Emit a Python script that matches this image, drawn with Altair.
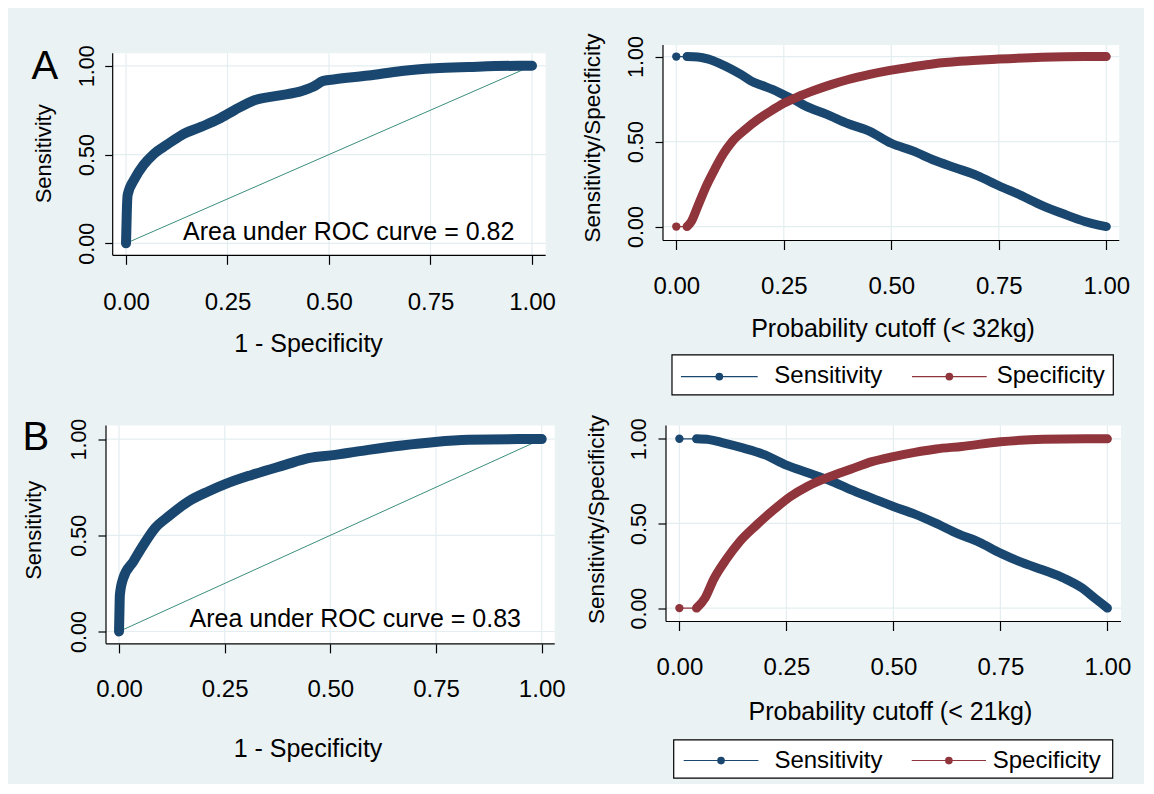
import altair as alt
import pandas as pd

# ---------------- data ----------------
x_tick_values = [0.0, 0.25, 0.5, 0.75, 1.0]
y_tick_values = [0.0, 0.5, 1.0]
series_names = ["Sensitivity", "Specificity"]
panel_letters = ["A", "B"]
auc_labels = ["Area under ROC curve = 0.82", "Area under ROC curve = 0.83"]
roc_x_title = "1 - Specificity"
roc_y_title = "Sensitivity"
cut_y_title = "Sensitivity/Specificity"
cut_x_titles = ["Probability cutoff (< 32kg)", "Probability cutoff (< 21kg)"]
diag_vals = [0.0, 1.0]

# Panel A, ROC curve (1 - specificity, sensitivity)
roc_a_fpr = [0.0, 0.001, 0.002, 0.004, 0.022, 0.043, 0.067, 0.100, 0.137, 0.186, 0.228,
             0.268, 0.318, 0.375, 0.433, 0.462, 0.486, 0.515, 0.597, 0.679, 0.761, 0.843,
             0.966, 1.0]
roc_a_tpr = [0.0, 0.085, 0.178, 0.272, 0.366, 0.441, 0.500, 0.554, 0.610, 0.657, 0.700,
             0.751, 0.807, 0.832, 0.858, 0.883, 0.915, 0.924, 0.945, 0.971, 0.986, 0.993,
             1.0, 1.0]

# Panel B, ROC curve
roc_b_fpr = [0.0, 0.001, 0.002, 0.010, 0.034, 0.058, 0.085, 0.117, 0.164, 0.211, 0.251,
             0.314, 0.393, 0.448, 0.511, 0.590, 0.669, 0.748, 0.827, 0.945, 1.0]
roc_b_tpr = [0.0, 0.104, 0.190, 0.277, 0.364, 0.451, 0.537, 0.598, 0.676, 0.728, 0.766,
             0.814, 0.866, 0.901, 0.918, 0.944, 0.967, 0.985, 0.996, 1.0, 1.0]

# Panel A, sensitivity / specificity against probability cutoff
sens_a_cut = [0.0, 0.025, 0.05, 0.075, 0.10, 0.125, 0.15, 0.175, 0.20, 0.225, 0.25, 0.275,
              0.30, 0.35, 0.40, 0.45, 0.50, 0.55, 0.60, 0.65, 0.70, 0.75, 0.80, 0.85, 0.90,
              0.95, 0.98, 1.0]
sens_a_val = [1.0, 1.0, 0.998, 0.985, 0.96, 0.93, 0.895, 0.855, 0.83, 0.805, 0.775, 0.745,
              0.71, 0.66, 0.605, 0.56, 0.49, 0.445, 0.39, 0.345, 0.30, 0.24, 0.185, 0.125,
              0.075, 0.03, 0.01, 0.0]
spec_a_cut = [0.0, 0.025, 0.035, 0.05, 0.07, 0.09, 0.11, 0.13, 0.16, 0.19, 0.22, 0.25,
              0.28, 0.32, 0.36, 0.40, 0.45, 0.50, 0.55, 0.60, 0.66, 0.75, 0.85, 0.95, 1.0]
spec_a_val = [0.0, 0.0, 0.03, 0.12, 0.24, 0.34, 0.43, 0.50, 0.57, 0.63, 0.68, 0.725,
              0.76, 0.80, 0.835, 0.865, 0.895, 0.92, 0.94, 0.958, 0.972, 0.985, 0.996,
              1.0, 1.0]

# Panel B
sens_b_cut = [0.0, 0.04, 0.07, 0.10, 0.15, 0.20, 0.25, 0.30, 0.35, 0.40, 0.45, 0.50, 0.55,
              0.60, 0.65, 0.70, 0.75, 0.80, 0.85, 0.90, 0.94, 0.97, 1.0]
sens_b_val = [1.0, 1.0, 0.995, 0.978, 0.945, 0.905, 0.845, 0.80, 0.755, 0.70, 0.65, 0.60,
              0.555, 0.50, 0.44, 0.39, 0.325, 0.27, 0.225, 0.175, 0.12, 0.06, 0.0]
spec_b_cut = [0.0, 0.04, 0.06, 0.08, 0.11, 0.14, 0.18, 0.22, 0.26, 0.30, 0.35, 0.40, 0.45,
              0.50, 0.55, 0.60, 0.66, 0.75, 0.85, 0.95, 1.0]
spec_b_val = [0.0, 0.0, 0.06, 0.17, 0.29, 0.39, 0.49, 0.58, 0.66, 0.72, 0.775, 0.82, 0.865,
              0.895, 0.92, 0.94, 0.955, 0.982, 0.997, 1.0, 1.0]

# ---------------- style ----------------
NAVY = "#1a476f"
MAROON = "#90353b"
GREEN = "#3b8d7c"
BG = "#eaf2f3"
GRID = "#e4eef0"
FONT = "Liberation Sans"


def setup(geo, xtitle, ytitle, ytitle_size):
    """Scales and axes. The white plot region is xdom x ydom; the view may extend
    a little further to the left / top (vx0, vy1) so that grid origins line up."""
    vx0 = geo.get("vx0", geo["xdom"][0])
    vy1 = geo.get("vy1", geo["ydom"][1])
    xaxis = alt.Axis(values=x_tick_values, format=".2f", title=xtitle, grid=False,
                     domain=False, tickSize=9, labelFontSize=24, labelBaseline="alphabetic",
                     labelPadding=geo["xlabpad"], labelFlush=False, labelOverlap=False,
                     titleFontSize=25, titleX=geo["xtx"], titleY=geo["xty"],
                     titleBaseline="alphabetic", titleAlign="center", titleAngle=0)
    yaxis = alt.Axis(values=y_tick_values, format=".2f", title=ytitle, grid=False,
                     domain=False, tickSize=8, labelFontSize=21.5, labelAngle=270,
                     labelAlign="center", labelBaseline="alphabetic",
                     labelPadding=geo["ylabpad"], labelFlush=False, labelOverlap=False,
                     offset=geo.get("yoff", 0),
                     titleFontSize=ytitle_size, titleAngle=270, titleX=geo["ytx"],
                     titleY=geo["yty"], titleBaseline="alphabetic", titleAlign="center")
    xs = alt.Scale(domain=[vx0, geo["xdom"][1]], nice=False, zero=False)
    ys = alt.Scale(domain=[geo["ydom"][0], vy1], nice=False, zero=False)
    w = (geo["xdom"][1] - vx0) * geo["xppu"]
    h = (vy1 - geo["ydom"][0]) * geo["yppu"]
    return dict(xs=xs, ys=ys, xaxis=xaxis, yaxis=yaxis, w=w, h=h)


def XY(s, xfield="x", yfield="y"):
    return (alt.X(f"{xfield}:Q", scale=s["xs"], axis=s["xaxis"]),
            alt.Y(f"{yfield}:Q", scale=s["ys"], axis=s["yaxis"]))


def frame_layers(geo, s):
    """White plot region, light grid lines and the two axis lines."""
    X, Y = XY(s)
    x0, x1 = geo["xdom"]
    y0, y1 = geo["ydom"]
    white = alt.Chart(pd.DataFrame({"x": [x0], "x2": [x1], "y": [y0], "y2": [y1]})).mark_rect(
        fill="white", clip=False).encode(x=X, x2="x2:Q", y=Y, y2="y2:Q")
    vgrid = alt.Chart(pd.DataFrame({"x": x_tick_values, "y": [y0] * len(x_tick_values),
                                    "y2": [y1] * len(x_tick_values)})).mark_rule(
        color=GRID, strokeWidth=1.2).encode(x=X, y=Y, y2="y2:Q")
    hgrid = alt.Chart(pd.DataFrame({"y": y_tick_values, "x": [x0] * len(y_tick_values),
                                    "x2": [x1] * len(y_tick_values)})).mark_rule(
        color=GRID, strokeWidth=1.2).encode(y=Y, x=X, x2="x2:Q")
    xline = alt.Chart(pd.DataFrame({"x": [x0], "x2": [x1], "y": [y0]})).mark_rule(
        color="black", strokeWidth=1.2, clip=False).encode(x=X, x2="x2:Q", y=Y)
    yline = alt.Chart(pd.DataFrame({"x": [x0], "y": [y0], "y2": [y1]})).mark_rule(
        color="black", strokeWidth=1.2, clip=False).encode(x=X, y=Y, y2="y2:Q")
    return [white, vgrid, hgrid], [xline, yline]


def roc_panel(fpr, tpr, letter, auc_text, geo):
    s = setup(geo, roc_x_title, roc_y_title, 22)
    X, Y = XY(s)
    back, lines = frame_layers(geo, s)
    diag = alt.Chart(pd.DataFrame({"x": diag_vals, "y": diag_vals})).mark_line(
        color=GREEN, strokeWidth=1).encode(x=X, y=Y)
    curve = alt.Chart(pd.DataFrame({"x": fpr, "y": tpr})).mark_line(
        color=NAVY, strokeWidth=10, strokeCap="round", strokeJoin="round",
        interpolate="monotone").encode(x=X, y=Y, order="x:Q")
    annot = alt.Chart(pd.DataFrame({"x": [geo["auc"][0]], "y": [geo["auc"][1]], "t": [auc_text]})).mark_text(
        font=FONT, fontSize=25, align="center", baseline="alphabetic", color="black", clip=False
    ).encode(x=X, y=Y, text="t:N")
    let = alt.Chart(pd.DataFrame({"x": [geo["letter"][0]], "y": [geo["letter"][1]], "t": [letter]})).mark_text(
        font=FONT, fontSize=40, align="center", baseline="alphabetic", color="black", clip=False
    ).encode(x=X, y=Y, text="t:N")
    return alt.layer(*back, diag, curve, *lines, annot, let).properties(
        width=s["w"], height=s["h"])


def cut_panel(sx, sy, px, py, xtitle, geo):
    s = setup(geo, xtitle, cut_y_title, 22.5)
    X, Y = XY(s)
    back, lines = frame_layers(geo, s)
    rows = []
    for name, xv, yv in ((series_names[0], sx, sy), (series_names[1], px, py)):
        for i, (a, b) in enumerate(zip(xv, yv)):
            rows.append({"series": name, "x": a, "y": b, "first": i == 0})
    df = pd.DataFrame(rows)
    color = alt.Color("series:N", scale=alt.Scale(domain=series_names, range=[NAVY, MAROON]),
                      legend=None)
    base = alt.Chart(df)
    thin = base.mark_line(strokeWidth=1.2).encode(x=X, y=Y, color=color, order="x:Q")
    thick = base.transform_filter("!datum.first").mark_line(
        strokeWidth=9, strokeCap="round", strokeJoin="round", interpolate="monotone"
    ).encode(x=X, y=Y, color=color, order="x:Q")
    iso = base.transform_filter("datum.first").mark_point(
        filled=True, size=70, opacity=1).encode(x=X, y=Y, color=color)

    lg = geo["legend"]
    box = alt.Chart(pd.DataFrame({"x": [lg["box"][0]], "x2": [lg["box"][1]],
                                  "y": [lg["box"][2]], "y2": [lg["box"][3]]})).mark_rect(
        fill="white", stroke="black", strokeWidth=1.2, clip=False
    ).encode(x=X, x2="x2:Q", y=Y, y2="y2:Q")
    ldf = pd.DataFrame({
        "series": series_names,
        "x": [lg["sens"][0], lg["spec"][0]],
        "x2": [lg["sens"][1], lg["spec"][1]],
        "xm": [(lg["sens"][0] + lg["sens"][1]) / 2, (lg["spec"][0] + lg["spec"][1]) / 2],
        "xt": [lg["sens"][2], lg["spec"][2]],
        "y": [lg["sym_y"]] * 2,
        "yt": [lg["txt_y"]] * 2,
    })
    lbase = alt.Chart(ldf)
    lrule = lbase.mark_rule(strokeWidth=1.2, clip=False).encode(x=X, x2="x2:Q", y=Y, color=color)
    Xm, _ = XY(s, xfield="xm")
    ldot = lbase.mark_point(filled=True, size=60, opacity=1, clip=False).encode(
        x=Xm, y=Y, color=color)
    Xt, Yt = XY(s, xfield="xt", yfield="yt")
    ltxt = lbase.mark_text(font=FONT, fontSize=24, align="left", baseline="alphabetic",
                           color="black", clip=False).encode(x=Xt, y=Yt, text="series:N")
    return alt.layer(*back, thin, thick, iso, *lines, box, lrule, ldot, ltxt).properties(
        width=s["w"], height=s["h"])


# layout of each panel: white-region domains, pixels per unit, label/title offsets
geo_al = dict(xdom=[-0.0328, 1.0337], ydom=[-0.0676, 1.0704], xppu=406, yppu=177.5,
              vx0=-0.04926, vy1=1.11718, yoff=-6.7,
              xlabpad=45.7, xtx=202.0, xty=96.3, ylabpad=11.3, ytx=-62, yty=108.3,
              auc=(0.5485, 0.019), letter=(-0.2, 0.928))
geo_ar = dict(xdom=[-0.0309, 1.0302], ydom=[-0.082, 1.068], xppu=430, yppu=170,
              xlabpad=43.7, xtx=229.5, xty=96, ylabpad=13, ytx=-63.2, yty=92.5,
              legend=dict(box=(-0.01, 1.0163, -0.7553, -0.9906), sym_y=-0.8824, txt_y=-0.9218,
                          sens=(0.0109, 0.1893, 0.2279), spec=(0.5481, 0.7219, 0.7451)))
geo_bl = dict(xdom=[-0.0308, 1.0308], ydom=[-0.064, 1.0707], xppu=422.7, yppu=192.4,
              xlabpad=43.7, xtx=201.5, xty=112.7, ylabpad=13, ytx=-65.2, yty=104.3,
              auc=(0.559, 0.026), letter=(-0.197, 0.944))
geo_br = dict(xdom=[-0.0313, 1.0318], ydom=[-0.079, 1.0786], xppu=428, yppu=169.3,
              xlabpad=44.3, xtx=223.9, xty=98.3, ylabpad=12.6, ytx=-62.9, yty=93.5,
              legend=dict(box=(-0.0133, 1.0124, -0.7779, -1.0041), sym_y=-0.9002, txt_y=-0.945,
                          sens=(0.01, 0.1846, 0.222), spec=(0.5428, 0.7164, 0.732)))

a_left = roc_panel(roc_a_fpr, roc_a_tpr, panel_letters[0], auc_labels[0], geo_al)
a_right = cut_panel(sens_a_cut, sens_a_val, spec_a_cut, spec_a_val, cut_x_titles[0], geo_ar)
b_left = roc_panel(roc_b_fpr, roc_b_tpr, panel_letters[1], auc_labels[1], geo_bl)
b_right = cut_panel(sens_b_cut, sens_b_val, spec_b_cut, spec_b_val, cut_x_titles[1], geo_br)

row_a = alt.hconcat(a_left, a_right, spacing=25)
row_b = alt.hconcat(b_left, b_right, spacing=18)

chart = alt.vconcat(row_a, row_b, spacing=16.5).properties(
    padding={"left": 13, "top": 24, "right": 12, "bottom": 4},
    background=BG,
).configure_view(
    fill="transparent", stroke="transparent"
).configure_axis(
    tickColor="black", tickWidth=1.2,
    labelColor="black", titleColor="black",
    labelFont=FONT, titleFont=FONT, titleFontWeight="normal",
)

chart.save("out.html", embed_options={"renderer": "svg", "actions": False})
